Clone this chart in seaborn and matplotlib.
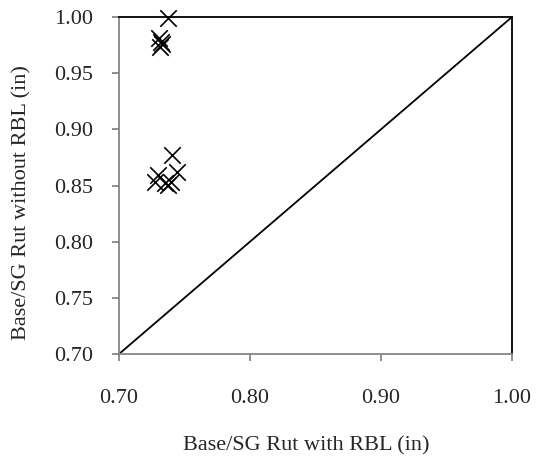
import matplotlib
matplotlib.use("Agg")
import matplotlib.pyplot as plt
import seaborn as sns
import pandas as pd

# rut values
rut_with_rbl = [0.7376, 0.7305, 0.7320, 0.7330, 0.7315,
                0.7402, 0.7441, 0.7400, 0.7300, 0.7275, 0.7350, 0.7374]
rut_without_rbl = [0.9995, 0.9815, 0.9780, 0.9760, 0.9735,
                   0.8772, 0.8624, 0.8535, 0.8594, 0.8530, 0.8520, 0.8505]

x_ticks = [0.70, 0.80, 0.90, 1.00]
y_ticks = [0.70, 0.75, 0.80, 0.85, 0.90, 0.95, 1.00]

sns.set_style("white")
plt.rcParams['font.family'] = ['Liberation Serif', 'DejaVu Serif']

data = pd.DataFrame({'with': rut_with_rbl, 'without': rut_without_rbl})

fig = plt.figure(figsize=(5.42, 4.63), dpi=100)
ax = fig.add_axes([0.2196, 0.2354, 0.725, 0.7279])

# line of equality
ax.plot([0.70, 1.00], [0.70, 1.00], color='black', linewidth=1.3, zorder=1)

sns.scatterplot(data=data, x='with', y='without', marker='x', color='black',
                s=140, linewidth=1.2, ax=ax, zorder=3, clip_on=False)

ax.set_xlim(0.70, 1.00)
ax.set_ylim(0.70, 1.00)
ax.set_xticks(x_ticks)
ax.set_yticks(y_ticks)
ax.set_xticklabels([f"{v:.2f}" for v in x_ticks])
ax.set_yticklabels([f"{v:.2f}" for v in y_ticks])

gray = '#868686'
ax.spines['left'].set_color(gray)
ax.spines['bottom'].set_color(gray)
ax.spines['top'].set_color('black')
ax.spines['right'].set_color('black')
for s in ax.spines.values():
    s.set_linewidth(1.3)

ax.tick_params(axis='y', direction='out', length=5, width=1.3, color=gray,
               labelsize=16, pad=14, left=True)
ax.tick_params(axis='x', direction='out', length=5, width=1.3, color=gray,
               labelsize=16, pad=20, bottom=True)

ax.set_xlabel('Base/SG Rut with RBL (in)', fontsize=16)
ax.set_ylabel('Base/SG Rut without RBL (in)', fontsize=16)
ax.xaxis.set_label_coords(0.476, -0.245)
ax.yaxis.set_label_coords(-0.224, 0.45)

fig.savefig('out.png', dpi=100)
